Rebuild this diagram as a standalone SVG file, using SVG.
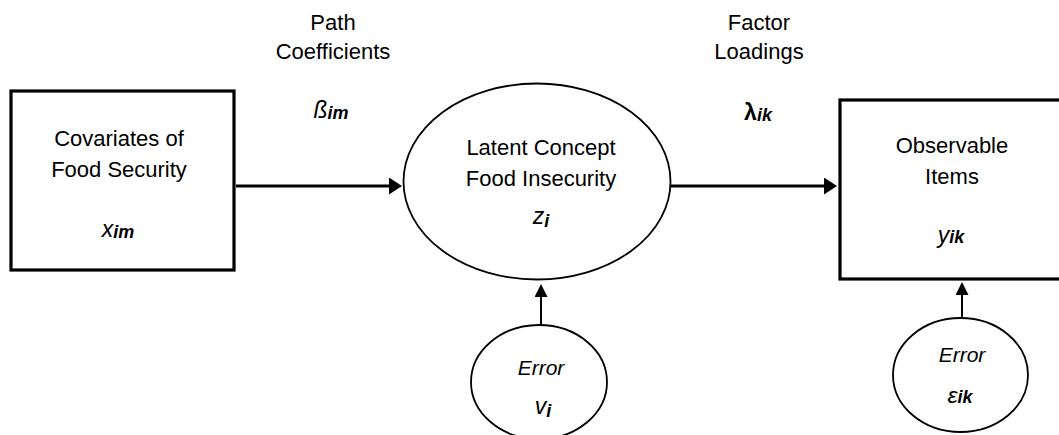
<svg xmlns="http://www.w3.org/2000/svg" width="1059" height="435" viewBox="0 0 1059 435">
  <style>
    .lbl { font-family: "Liberation Sans", Arial, sans-serif; font-size: 22px; fill: #000; text-anchor: middle; }
    .var { font-family: "Liberation Sans", Arial, sans-serif; font-size: 23px; font-style: italic; fill: #000; text-anchor: middle; }
    .sub { font-size: 18px; font-weight: bold; font-style: italic; }
    .box { fill: #fff; stroke: #000; stroke-width: 3.2; }
    .oval { fill: #fff; stroke: #000; stroke-width: 1.8; }
    .main { stroke: #000; stroke-width: 3.2; fill: none; }
    .err { stroke: #000; stroke-width: 2; fill: none; }
  </style>
  <defs>
    <marker id="headH" markerUnits="userSpaceOnUse" markerWidth="14" markerHeight="18" refX="1" refY="8.5" orient="auto">
      <path d="M0,0 L13,8.5 L0,17 Z" fill="#000"/>
    </marker>
    <marker id="headV" markerUnits="userSpaceOnUse" markerWidth="14" markerHeight="14" refX="1" refY="6.5" orient="auto">
      <path d="M0,0 L13,6.5 L0,13 Z" fill="#000"/>
    </marker>
  </defs>

  <rect width="1059" height="435" fill="#fff"/>

  <!-- path labels -->
  <g id="path-coefficients">
    <text class="lbl" x="333" y="30">Path</text>
    <text class="lbl" x="333" y="59">Coefficients</text>
    <text class="var" x="331" y="118">ß<tspan class="sub" dy="1">im</tspan></text>
  </g>
  <g id="factor-loadings">
    <text class="lbl" x="759" y="30">Factor</text>
    <text class="lbl" x="759" y="59">Loadings</text>
    <text class="var" x="758" y="120" style="font-style:normal;font-weight:bold">λ<tspan class="sub" dy="1">ik</tspan></text>
  </g>

  <!-- connectors -->
  <g id="connectors">
    <line class="main" x1="236" y1="186" x2="390" y2="186" marker-end="url(#headH)"/>
    <line class="main" x1="671" y1="186" x2="825" y2="186" marker-end="url(#headH)"/>
    <line class="err" x1="541" y1="325" x2="541" y2="296" marker-end="url(#headV)"/>
    <line class="err" x1="962" y1="318" x2="962" y2="294" marker-end="url(#headV)"/>
  </g>

  <g id="covariates">
    <rect class="box" x="11" y="91" width="223" height="179"/>
    <text class="lbl" x="119" y="146">Covariates of</text>
    <text class="lbl" x="119" y="177">Food Security</text>
    <text class="var" x="118" y="237">x<tspan class="sub" dy="1">im</tspan></text>
  </g>

  <g id="latent">
    <ellipse class="oval" cx="537" cy="181.5" rx="133.5" ry="98"/>
    <text class="lbl" x="541" y="155">Latent Concept</text>
    <text class="lbl" x="541" y="186">Food Insecurity</text>
    <text class="var" x="541" y="224">z<tspan class="sub" dy="3">i</tspan></text>
  </g>

  <g id="observable">
    <rect class="box" x="840" y="100" width="240" height="179"/>
    <text class="lbl" x="952" y="153">Observable</text>
    <text class="lbl" x="952" y="184">Items</text>
    <text class="var" x="951" y="243">y<tspan class="sub">ik</tspan></text>
  </g>

  <g id="error-latent">
    <ellipse class="oval" cx="539" cy="382" rx="68" ry="57"/>
    <text class="var" x="541" y="375" style="font-size:21px">Error</text>
    <text class="var" x="543" y="414">v<tspan class="sub" dy="3">i</tspan></text>
  </g>

  <g id="error-items">
    <ellipse class="oval" cx="960.5" cy="375" rx="67.5" ry="57"/>
    <text class="var" x="962" y="362" style="font-size:21px">Error</text>
    <text class="var" x="960" y="403">ε<tspan class="sub">ik</tspan></text>
  </g>
</svg>
